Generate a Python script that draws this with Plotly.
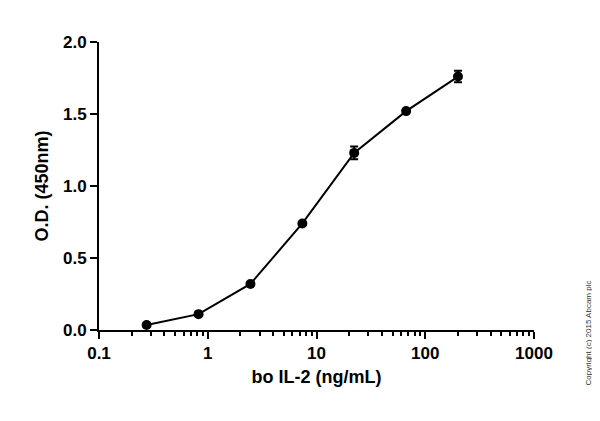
import plotly.graph_objects as go

conc = [0.274, 0.823, 2.47, 7.41, 22.2, 66.7, 200]
od = [0.035, 0.11, 0.32, 0.74, 1.23, 1.52, 1.76]
err = [0.01, 0.01, 0.01, 0.01, 0.045, 0.01, 0.04]
xticks = [0.1, 1, 10, 100, 1000]
xticklabels = ["<b>0.1</b>", "<b>1</b>", "<b>10</b>", "<b>100</b>", "<b>1000</b>"]
yticks = [0, 0.5, 1.0, 1.5, 2.0]
yticklabels = ["<b>0.0</b>", "<b>0.5</b>", "<b>1.0</b>", "<b>1.5</b>", "<b>2.0</b>"]

fig = go.Figure(go.Scatter(
    x=conc, y=od, mode="lines+markers",
    line=dict(color="black", width=2),
    marker=dict(color="black", size=10),
    error_y=dict(type="data", array=err, color="black", thickness=2, width=4),
))
tf = dict(size=17, family="Liberation Sans, Arial", color="black")
fig.update_layout(
    width=600, height=421, plot_bgcolor="white", paper_bgcolor="white",
    margin=dict(l=91, r=74, t=34, b=99), showlegend=False,
    font=tf,
    xaxis=dict(type="log", range=[-1, 3], tickvals=xticks, ticktext=xticklabels,
               showgrid=False, zeroline=False, showline=True, linecolor="black", linewidth=2,
               ticks="outside", ticklen=7, tickwidth=2, tickcolor="black",
               minor=dict(ticks="outside", ticklen=4, tickwidth=1.5, tickcolor="black", dtick="D1", showgrid=False),
               title=dict(text="<b>bo IL-2 (ng/mL)</b>", standoff=8, font=dict(size=18)),
               tickfont=tf),
    yaxis=dict(range=[0, 2.0], tickvals=yticks, ticktext=yticklabels,
               showgrid=False, zeroline=False, showline=True, linecolor="black", linewidth=2,
               ticks="outside", ticklen=7, tickwidth=2, tickcolor="black",
               title=dict(text="<b>O.D. (450nm)</b>", standoff=10, font=dict(size=18)),
               tickfont=tf),
)
fig.add_annotation(text="Copyright (c) 2015 Abcam plc", xref="paper", yref="paper",
                   x=1.125, y=-0.2, textangle=-90, showarrow=False, xanchor="center", yanchor="bottom",
                   font=dict(size=8, color="#333", family="Liberation Sans, Arial"))
fig.write_html("out.html")
